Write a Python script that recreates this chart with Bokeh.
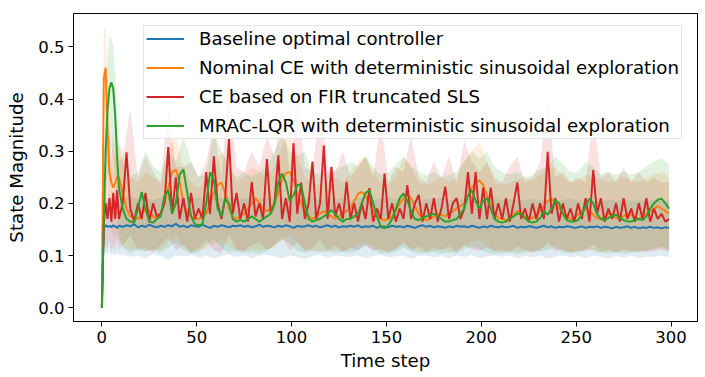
from bokeh.plotting import figure
from bokeh.models import Range1d, FixedTicker, PrintfTickFormatter, Legend, LegendItem
from bokeh.embed import file_html
from bokeh.resources import INLINE

# ---------------- data ----------------
x_ticks = [0, 50, 100, 150, 200, 250, 300]
y_ticks = [0.0, 0.1, 0.2, 0.3, 0.4, 0.5]

labels = [
    "Baseline optimal controller",
    "Nominal CE with deterministic sinusoidal exploration",
    "CE based on FIR truncated SLS",
    "MRAC-LQR with deterministic sinusoidal exploration",
]
colors = ["#1f77b4", "#ff7f0e", "#d62728", "#2ca02c"]

# time steps at which the mean curves were read
line_steps = list(range(10)) + list(range(11, 300, 2))

baseline = [
    0.0, 0.152, 0.158, 0.155, 0.157, 0.154, 0.158, 0.156, 0.153, 0.157,
    0.155, 0.158, 0.156, 0.160, 0.154, 0.157, 0.155, 0.159, 0.156, 0.154,
    0.157, 0.155, 0.158, 0.156, 0.161, 0.155, 0.157, 0.154, 0.158, 0.156,
    0.155, 0.159, 0.156, 0.153, 0.157, 0.155, 0.158, 0.156, 0.154, 0.157,
    0.156, 0.158, 0.155, 0.157, 0.154, 0.156, 0.159, 0.155, 0.157, 0.156,
    0.154, 0.157, 0.155, 0.158, 0.156, 0.153, 0.157, 0.155, 0.156, 0.158,
    0.155, 0.157, 0.154, 0.156, 0.158, 0.155, 0.157, 0.154, 0.156, 0.155,
    0.157, 0.155, 0.158, 0.154, 0.156, 0.155, 0.157, 0.153, 0.156, 0.155,
    0.154, 0.157, 0.155, 0.156, 0.154, 0.157, 0.155, 0.153, 0.156, 0.158,
    0.155, 0.157, 0.154, 0.156, 0.155, 0.153, 0.156, 0.154, 0.157, 0.155,
    0.156, 0.154, 0.157, 0.155, 0.153, 0.156, 0.154, 0.157, 0.155, 0.154,
    0.156, 0.154, 0.155, 0.157, 0.153, 0.155, 0.154, 0.156, 0.155, 0.153,
    0.155, 0.157, 0.154, 0.156, 0.153, 0.155, 0.154, 0.156, 0.155, 0.153,
    0.154, 0.156, 0.153, 0.155, 0.154, 0.156, 0.153, 0.155, 0.154, 0.152,
    0.155, 0.153, 0.154, 0.156, 0.153, 0.155, 0.152, 0.154, 0.153, 0.155,
    0.153, 0.154, 0.152, 0.154, 0.153,
]

nominal_ce = [
    0.0, 0.44, 0.46, 0.34, 0.26, 0.24, 0.23, 0.24, 0.25, 0.25,
    0.22, 0.19, 0.175, 0.172, 0.17, 0.18, 0.19, 0.185, 0.175, 0.17,
    0.18, 0.2, 0.23, 0.26, 0.265, 0.24, 0.2, 0.18, 0.175, 0.17,
    0.17, 0.175, 0.18, 0.2, 0.22, 0.235, 0.24, 0.22, 0.19, 0.175,
    0.17, 0.175, 0.18, 0.19, 0.2, 0.21, 0.2, 0.19, 0.185, 0.19,
    0.2, 0.22, 0.245, 0.258, 0.26, 0.245, 0.22, 0.2, 0.185, 0.175,
    0.17, 0.175, 0.18, 0.185, 0.18, 0.175, 0.17, 0.175, 0.18, 0.185,
    0.19, 0.205, 0.218, 0.222, 0.215, 0.2, 0.185, 0.175, 0.17, 0.168,
    0.17, 0.175, 0.185, 0.2, 0.21, 0.216, 0.21, 0.195, 0.18, 0.172,
    0.168, 0.17, 0.175, 0.18, 0.178, 0.175, 0.18, 0.185, 0.19, 0.195,
    0.2, 0.215, 0.23, 0.24, 0.244, 0.235, 0.215, 0.195, 0.18, 0.172,
    0.17, 0.168, 0.172, 0.178, 0.185, 0.18, 0.175, 0.17, 0.172, 0.178,
    0.185, 0.195, 0.205, 0.209, 0.2, 0.19, 0.18, 0.175, 0.17, 0.172,
    0.178, 0.185, 0.19, 0.185, 0.178, 0.172, 0.17, 0.175, 0.18, 0.178,
    0.172, 0.17, 0.175, 0.18, 0.178, 0.172, 0.17, 0.175, 0.18, 0.185,
    0.19, 0.195, 0.19, 0.185, 0.18,
]

fir_sls = [
    0.0, 0.16, 0.2, 0.17, 0.21, 0.165, 0.22, 0.17, 0.225, 0.17,
    0.2, 0.298, 0.19, 0.165, 0.2, 0.17, 0.22, 0.165, 0.2, 0.175,
    0.18, 0.2, 0.308, 0.18, 0.25, 0.17, 0.21, 0.165, 0.22, 0.17,
    0.19, 0.17, 0.26, 0.18, 0.29, 0.2, 0.17, 0.21, 0.324, 0.18,
    0.22, 0.17, 0.2, 0.165, 0.241, 0.175, 0.2, 0.17, 0.285, 0.18,
    0.2, 0.292, 0.17, 0.21, 0.165, 0.315, 0.18, 0.24, 0.17, 0.2,
    0.28, 0.17, 0.2, 0.311, 0.17, 0.27, 0.175, 0.2, 0.17, 0.241,
    0.17, 0.2, 0.165, 0.2, 0.17, 0.229, 0.165, 0.19, 0.17, 0.257,
    0.17, 0.2, 0.165, 0.19, 0.17, 0.235, 0.17, 0.2, 0.216, 0.165,
    0.2, 0.17, 0.21, 0.165, 0.19, 0.232, 0.17, 0.2, 0.21, 0.17,
    0.19, 0.26, 0.18, 0.26, 0.17, 0.23, 0.17, 0.23, 0.17, 0.2,
    0.17, 0.21, 0.165, 0.2, 0.24, 0.17, 0.19, 0.165, 0.2, 0.17,
    0.2, 0.17, 0.299, 0.18, 0.21, 0.165, 0.2, 0.17, 0.19, 0.165,
    0.2, 0.17, 0.21, 0.165, 0.264, 0.18, 0.21, 0.165, 0.19, 0.17,
    0.2, 0.165, 0.21, 0.17, 0.19, 0.165, 0.2, 0.17, 0.21, 0.165,
    0.19, 0.17, 0.18, 0.165, 0.17,
]

mrac_lqr = [
    0.0, 0.16, 0.3, 0.38, 0.42, 0.432, 0.42, 0.37, 0.29, 0.23,
    0.19, 0.17, 0.165, 0.163, 0.19, 0.222, 0.19, 0.165, 0.163, 0.17,
    0.175, 0.215, 0.225, 0.18, 0.2, 0.255, 0.265, 0.22, 0.175, 0.16,
    0.158, 0.16, 0.2, 0.26, 0.245, 0.19, 0.175, 0.209, 0.2, 0.17,
    0.165, 0.168, 0.165, 0.17, 0.175, 0.17, 0.165, 0.17, 0.175, 0.18,
    0.2, 0.24, 0.257, 0.24, 0.205, 0.215, 0.235, 0.236, 0.2, 0.17,
    0.165, 0.168, 0.17, 0.175, 0.18, 0.187, 0.18, 0.17, 0.165, 0.17,
    0.17, 0.175, 0.18, 0.2, 0.22, 0.225, 0.2, 0.175, 0.155, 0.152,
    0.158, 0.17, 0.19, 0.21, 0.219, 0.205, 0.185, 0.17, 0.168, 0.172,
    0.175, 0.178, 0.18, 0.175, 0.17, 0.165, 0.165, 0.168, 0.17, 0.18,
    0.19, 0.215, 0.225, 0.205, 0.19, 0.205, 0.21, 0.19, 0.17, 0.165,
    0.163, 0.165, 0.17, 0.175, 0.18, 0.18, 0.172, 0.165, 0.163, 0.165,
    0.172, 0.185, 0.178, 0.19, 0.206, 0.2, 0.18, 0.168, 0.165, 0.165,
    0.168, 0.178, 0.195, 0.209, 0.2, 0.18, 0.17, 0.168, 0.172, 0.176,
    0.178, 0.172, 0.168, 0.165, 0.165, 0.168, 0.17, 0.168, 0.175, 0.19,
    0.2, 0.207, 0.209, 0.2, 0.19,
]

# time steps at which the shaded spread was read
band_steps = list(range(10)) + list(range(11, 300, 4))

baseline_lo = [
    0.0, 0.1, 0.105, 0.102, 0.108, 0.1, 0.104, 0.098, 0.106, 0.1,
    0.102, 0.097, 0.1, 0.095, 0.103, 0.099, 0.092, 0.1, 0.098, 0.101,
    0.096, 0.1, 0.094, 0.099, 0.102, 0.097, 0.1, 0.095, 0.099, 0.101,
    0.098, 0.095, 0.1, 0.097, 0.093, 0.099, 0.101, 0.096, 0.1, 0.098,
    0.097, 0.1, 0.095, 0.099, 0.102, 0.096, 0.098, 0.1, 0.094, 0.099,
    0.1, 0.096, 0.099, 0.094, 0.1, 0.097, 0.101, 0.095, 0.098, 0.1,
    0.097, 0.1, 0.095, 0.099, 0.096, 0.1, 0.094, 0.098, 0.1, 0.096,
    0.099, 0.095, 0.1, 0.097, 0.094, 0.099, 0.096, 0.1, 0.095, 0.098,
    0.097, 0.1, 0.096,
]
baseline_hi = [
    0.0, 0.205, 0.21, 0.207, 0.212, 0.206, 0.211, 0.208, 0.213, 0.207,
    0.21, 0.214, 0.208, 0.212, 0.206, 0.211, 0.215, 0.209, 0.212, 0.207,
    0.211, 0.208, 0.213, 0.209, 0.214, 0.207, 0.21, 0.212, 0.208, 0.211,
    0.209, 0.213, 0.207, 0.211, 0.209, 0.212, 0.206, 0.21, 0.208, 0.211,
    0.207, 0.21, 0.212, 0.206, 0.209, 0.211, 0.207, 0.21, 0.208, 0.206,
    0.209, 0.207, 0.211, 0.206, 0.209, 0.207, 0.21, 0.206, 0.208, 0.21,
    0.206, 0.209, 0.207, 0.205, 0.209, 0.206, 0.208, 0.205, 0.207, 0.209,
    0.205, 0.208, 0.206, 0.204, 0.207, 0.205, 0.208, 0.204, 0.206, 0.205,
    0.207, 0.204, 0.206,
]
nominal_ce_lo = [
    0.0, 0.35, 0.38, 0.25, 0.18, 0.15, 0.14, 0.13, 0.14, 0.13,
    0.12, 0.11, 0.115, 0.108, 0.112, 0.11, 0.125, 0.14, 0.118, 0.108,
    0.11, 0.113, 0.12, 0.13, 0.118, 0.11, 0.108, 0.113, 0.11, 0.112,
    0.115, 0.13, 0.14, 0.125, 0.112, 0.108, 0.11, 0.106, 0.112, 0.109,
    0.112, 0.12, 0.125, 0.118, 0.108, 0.11, 0.114, 0.122, 0.115, 0.108,
    0.106, 0.109, 0.112, 0.108, 0.11, 0.118, 0.126, 0.13, 0.12, 0.108,
    0.106, 0.109, 0.107, 0.111, 0.108, 0.112, 0.117, 0.12, 0.11, 0.107,
    0.108, 0.112, 0.11, 0.106, 0.109, 0.107, 0.11, 0.108, 0.106, 0.109,
    0.112, 0.115, 0.11,
]
nominal_ce_hi = [
    0.0, 0.53, 0.54, 0.42, 0.33, 0.31, 0.3, 0.29, 0.32, 0.31,
    0.3, 0.25, 0.24, 0.26, 0.25, 0.24, 0.3, 0.33, 0.27, 0.24,
    0.23, 0.24, 0.26, 0.3, 0.28, 0.24, 0.25, 0.27, 0.26, 0.25,
    0.27, 0.31, 0.34, 0.29, 0.25, 0.24, 0.235, 0.24, 0.25, 0.24,
    0.26, 0.28, 0.29, 0.26, 0.24, 0.235, 0.25, 0.29, 0.27, 0.24,
    0.235, 0.24, 0.25, 0.24, 0.25, 0.28, 0.3, 0.318, 0.28, 0.24,
    0.235, 0.24, 0.245, 0.25, 0.245, 0.255, 0.265, 0.27, 0.25, 0.24,
    0.245, 0.255, 0.25, 0.245, 0.24, 0.245, 0.25, 0.245, 0.24, 0.25,
    0.255, 0.26, 0.25,
]
fir_sls_lo = [
    0.0, 0.11, 0.12, 0.11, 0.13, 0.105, 0.12, 0.11, 0.13, 0.11,
    0.12, 0.14, 0.11, 0.115, 0.105, 0.12, 0.135, 0.11, 0.12, 0.105,
    0.115, 0.13, 0.11, 0.105, 0.14, 0.112, 0.108, 0.12, 0.125, 0.11,
    0.12, 0.135, 0.11, 0.125, 0.108, 0.115, 0.13, 0.11, 0.12, 0.107,
    0.115, 0.11, 0.12, 0.108, 0.113, 0.105, 0.112, 0.125, 0.11, 0.118,
    0.108, 0.115, 0.11, 0.118, 0.106, 0.12, 0.112, 0.109, 0.115, 0.108,
    0.112, 0.106, 0.118, 0.11, 0.106, 0.11, 0.125, 0.108, 0.112, 0.106,
    0.11, 0.107, 0.122, 0.108, 0.111, 0.106, 0.112, 0.108, 0.11, 0.106,
    0.109, 0.111, 0.107,
]
fir_sls_hi = [
    0.0, 0.3, 0.34, 0.3, 0.35, 0.28, 0.34, 0.29, 0.33, 0.28,
    0.29, 0.38, 0.25, 0.29, 0.26, 0.24, 0.39, 0.27, 0.27, 0.28,
    0.25, 0.28, 0.35, 0.25, 0.42, 0.27, 0.26, 0.3, 0.27, 0.33,
    0.29, 0.38, 0.26, 0.4, 0.27, 0.26, 0.39, 0.27, 0.26, 0.3,
    0.25, 0.27, 0.29, 0.25, 0.36, 0.24, 0.27, 0.26, 0.33, 0.25,
    0.24, 0.28, 0.25, 0.29, 0.24, 0.32, 0.28, 0.26, 0.28, 0.25,
    0.24, 0.27, 0.29, 0.24, 0.25, 0.28, 0.4, 0.25, 0.26, 0.24,
    0.25, 0.24, 0.37, 0.25, 0.26, 0.24, 0.27, 0.24, 0.26, 0.24,
    0.25, 0.24, 0.24,
]
mrac_lqr_lo = [
    0.0, 0.11, 0.2, 0.27, 0.3, 0.31, 0.29, 0.24, 0.18, 0.14,
    0.115, 0.105, 0.11, 0.108, 0.112, 0.106, 0.115, 0.125, 0.11, 0.104,
    0.106, 0.12, 0.13, 0.115, 0.105, 0.108, 0.104, 0.107, 0.103, 0.109,
    0.12, 0.13, 0.125, 0.108, 0.105, 0.109, 0.106, 0.11, 0.105, 0.107,
    0.106, 0.11, 0.12, 0.112, 0.103, 0.105, 0.108, 0.115, 0.108, 0.104,
    0.105, 0.107, 0.104, 0.106, 0.104, 0.112, 0.118, 0.113, 0.106, 0.103,
    0.104, 0.106, 0.103, 0.105, 0.107, 0.108, 0.11, 0.114, 0.106, 0.104,
    0.106, 0.113, 0.11, 0.105, 0.104, 0.106, 0.104, 0.105, 0.107, 0.11,
    0.114, 0.117, 0.112,
]
mrac_lqr_hi = [
    0.0, 0.25, 0.42, 0.49, 0.52, 0.52, 0.5, 0.45, 0.38, 0.32,
    0.28, 0.25, 0.26, 0.3, 0.27, 0.26, 0.3, 0.28, 0.33, 0.28,
    0.25, 0.26, 0.34, 0.3, 0.27, 0.25, 0.26, 0.25, 0.26, 0.27,
    0.3, 0.33, 0.3, 0.29, 0.3, 0.26, 0.255, 0.26, 0.265, 0.27,
    0.28, 0.27, 0.29, 0.27, 0.255, 0.26, 0.275, 0.29, 0.27, 0.26,
    0.255, 0.26, 0.25, 0.255, 0.26, 0.28, 0.3, 0.285, 0.3, 0.27,
    0.26, 0.255, 0.26, 0.25, 0.255, 0.265, 0.27, 0.29, 0.275, 0.26,
    0.26, 0.28, 0.27, 0.255, 0.26, 0.255, 0.26, 0.255, 0.26, 0.27,
    0.28, 0.287, 0.275,
]

means = [baseline, nominal_ce, fir_sls, mrac_lqr]
lows = [baseline_lo, nominal_ce_lo, fir_sls_lo, mrac_lqr_lo]
highs = [baseline_hi, nominal_ce_hi, fir_sls_hi, mrac_lqr_hi]

# ---------------- figure ----------------
FONT = "DejaVu Sans"

p = figure(
    frame_width=624, frame_height=308,
    x_range=Range1d(-14.95, 313.95), y_range=Range1d(-0.0265, 0.564),
    output_backend="svg", toolbar_location=None,
    min_border_left=73, min_border_right=6, min_border_top=13, min_border_bottom=50,
    background_fill_color="white", border_fill_color="white",
)
p.xgrid.visible = False
p.ygrid.visible = False
p.outline_line_color = "black"
p.outline_line_alpha = 1.0
p.outline_line_width = 1

for lo, hi, c in zip(lows, highs, colors):
    p.varea(x=band_steps, y1=lo, y2=hi, fill_color=c, fill_alpha=0.14)

renderers = []
for m, c in zip(means, colors):
    r = p.line(line_steps, m, line_color=c, line_width=2)
    renderers.append(r)

p.xaxis.ticker = FixedTicker(ticks=x_ticks)
p.yaxis.ticker = FixedTicker(ticks=y_ticks)
p.yaxis.formatter = PrintfTickFormatter(format="%.1f")
p.xaxis.axis_label = "Time step"
p.yaxis.axis_label = "State Magnitude"

for ax in (p.xaxis, p.yaxis):
    ax.major_label_text_font = FONT
    ax.major_label_text_font_size = "16.5px"
    ax.major_label_text_color = "black"
    ax.axis_label_text_font = FONT
    ax.axis_label_text_font_size = "18.2px"
    ax.axis_label_text_font_style = "normal"
    ax.axis_label_text_color = "black"
    ax.major_tick_out = 5
    ax.major_tick_in = 0
    ax.minor_tick_out = 0
    ax.minor_tick_in = 0
    ax.major_tick_line_color = "black"
    ax.axis_line_color = "black"
    ax.major_label_standoff = 4
p.xaxis.axis_label_standoff = 4
p.yaxis.axis_label_standoff = 8

legend = Legend(
    items=[LegendItem(label=l, renderers=[r]) for l, r in zip(labels, renderers)],
    location=(70, 182),
    margin=0, padding=2, spacing=8,
    glyph_width=38, glyph_height=21, label_height=21, label_standoff=15,
    label_text_font=FONT, label_text_font_size="18.2px", label_text_color="black",
    background_fill_color="white", background_fill_alpha=0.8,
    border_line_color="#cccccc", border_line_width=1,
)
p.add_layout(legend, "center")

open("out.html", "w").write(file_html(p, INLINE))
